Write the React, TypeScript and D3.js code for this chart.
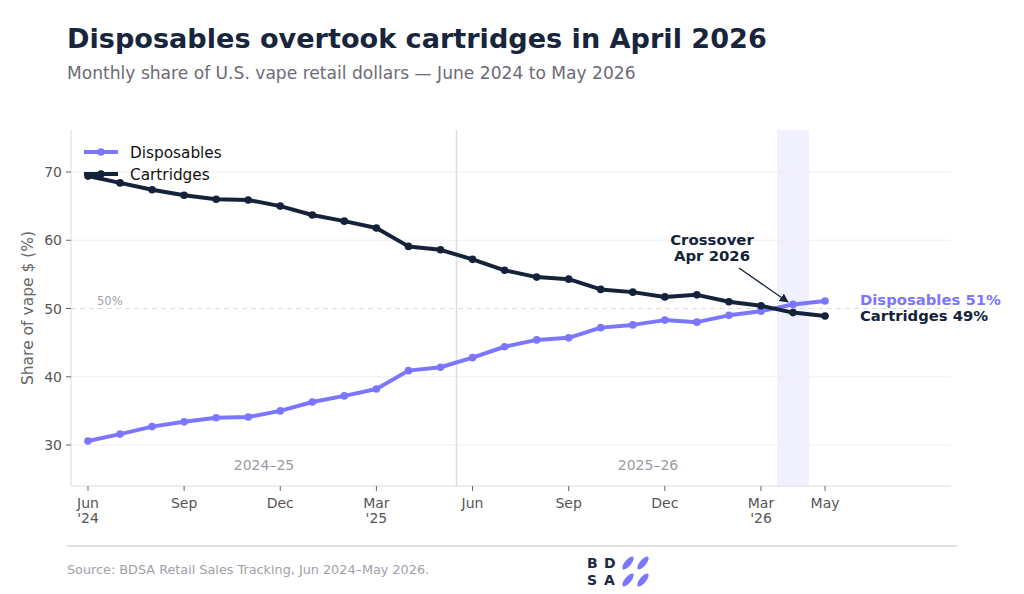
import React from 'react';
import * as d3 from 'd3';

// month index 0 = Jun 2024 ... 23 = May 2026
const months = d3.range(24);
const disposables = [30.6, 31.6, 32.7, 33.4, 34.0, 34.1, 35.0, 36.3, 37.2, 38.2, 40.9, 41.4, 42.8, 44.4, 45.4, 45.7, 47.2, 47.6, 48.3, 48.0, 49.0, 49.6, 50.6, 51.1];
const cartridges = [69.4, 68.4, 67.4, 66.6, 66.0, 65.9, 65.0, 63.7, 62.8, 61.8, 59.1, 58.6, 57.2, 55.6, 54.6, 54.3, 52.8, 52.4, 51.7, 52.0, 51.0, 50.4, 49.4, 48.9];
const xTicks = [0, 3, 6, 9, 12, 15, 18, 21, 23];
const xTickLabels = [["Jun", "'24"], ["Sep"], ["Dec"], ["Mar", "'25"], ["Jun"], ["Sep"], ["Dec"], ["Mar", "'26"], ["May"]];
const yTicks = [30, 40, 50, 60, 70];

const W = 1024;
const H = 594;
const FONT = 'DejaVu Sans, sans-serif';
const PURPLE = '#7b76ff';
const NAVY = '#14233a';

export default function App() {
  const left = 71, right = 951, top = 130, bottom = 486;
  const x = d3.scaleLinear().domain([-0.53, 26.93]).range([left, right]);
  const y = d3.scaleLinear().domain([24.0, 76.15]).range([bottom, top]);
  const line = d3.line<number>().x((_, i) => x(months[i])).y((d) => y(d));

  const series = [
    { name: 'Disposables', values: disposables, color: PURPLE },
    { name: 'Cartridges', values: cartridges, color: NAVY },
  ];

  return (
    <svg width={W} height={H} style={{ position: 'absolute', left: 0, top: 0, background: '#fff' }} fontFamily={FONT}>
      <rect width={W} height={H} fill="#fff" />
      <text x={67} y={48} fontSize={27.1} fontWeight="bold" fill="#17253d">Disposables overtook cartridges in April 2026</text>
      <text x={67} y={79} fontSize={17.1} fill="#6b6b75">Monthly share of U.S. vape retail dollars — June 2024 to May 2026</text>

      {/* crossover band */}
      <rect x={x(21.5)} y={top} width={x(22.5) - x(21.5)} height={bottom - top} fill="#efeeff" opacity={0.9} />

      {/* grid */}
      {yTicks.filter((t) => t !== 50).map((t) => (
        <line key={t} x1={left} x2={right} y1={y(t)} y2={y(t)} stroke="#eeeef0" strokeWidth={1} />
      ))}
      <line x1={left} x2={right} y1={y(50)} y2={y(50)} stroke="#dcdce0" strokeWidth={1} strokeDasharray="5,4" />
      <text x={97} y={y(50) - 4} fontSize={11.5} fill="#a0a0a8">50%</text>

      {/* season divider */}
      <line x1={x(11.5)} x2={x(11.5)} y1={top} y2={bottom} stroke="#dddde0" strokeWidth={1.5} />
      <text x={264} y={470} fontSize={14} fill="#9a9aa2" textAnchor="middle">2024–25</text>
      <text x={648} y={470} fontSize={14} fill="#9a9aa2" textAnchor="middle">2025–26</text>

      {/* spines */}
      <line x1={left} x2={left} y1={top} y2={bottom} stroke="#dcdce2" strokeWidth={1} />
      <line x1={left} x2={right} y1={bottom} y2={bottom} stroke="#dcdce2" strokeWidth={1} />

      {/* y axis */}
      {yTicks.map((t) => (
        <g key={t}>
          <line x1={left - 5} x2={left} y1={y(t)} y2={y(t)} stroke="#666" />
          <text x={left - 9} y={y(t) + 5} fontSize={14} fill="#555" textAnchor="end">{t}</text>
        </g>
      ))}
      <text transform={`translate(33,${(top + bottom) / 2}) rotate(-90)`} fontSize={15.5} fill="#666" textAnchor="middle">Share of vape $ (%)</text>

      {/* x axis */}
      {xTicks.map((t, i) => (
        <g key={t}>
          <line x1={x(t)} x2={x(t)} y1={bottom} y2={bottom + 5} stroke="#666" />
          {xTickLabels[i].map((s, j) => (
            <text key={j} x={x(t)} y={508 + j * 15} fontSize={14} fill="#555" textAnchor="middle">{s}</text>
          ))}
        </g>
      ))}

      {/* lines */}
      {series.map((s) => (
        <g key={s.name}>
          <path d={line(s.values) || ''} fill="none" stroke={s.color} strokeWidth={4} strokeLinejoin="round" strokeLinecap="round" />
          {s.values.map((v, i) => (
            <circle key={i} cx={x(months[i])} cy={y(v)} r={3.8} fill={s.color} />
          ))}
        </g>
      ))}

      {/* legend */}
      {series.map((s, i) => (
        <g key={s.name} transform={`translate(0,${152 + i * 22})`}>
          <line x1={84} x2={118} y1={0} y2={0} stroke={s.color} strokeWidth={4} />
          <circle cx={101} cy={0} r={3.8} fill={s.color} />
          <text x={130} y={5.5} fontSize={15.3} fill="#111">{s.name}</text>
        </g>
      ))}

      {/* annotation */}
      <text x={712} y={245} fontSize={14.9} fontWeight="bold" fill={NAVY} textAnchor="middle">Crossover</text>
      <text x={712} y={261} fontSize={14.9} fontWeight="bold" fill={NAVY} textAnchor="middle">Apr 2026</text>
      <defs>
        <marker id="arr" viewBox="0 0 10 10" refX="9" refY="5" markerWidth="7" markerHeight="7" orient="auto">
          <path d="M0,0 L10,5 L0,10 z" fill={NAVY} />
        </marker>
      </defs>
      <line x1={739} y1={268} x2={788} y2={302} stroke={NAVY} strokeWidth={1.3} markerEnd="url(#arr)" />

      {/* end labels */}
      <text x={860} y={305} fontSize={14.8} fontWeight="bold" fill={PURPLE}>Disposables {Math.round(disposables[23])}%</text>
      <text x={860} y={321} fontSize={14.8} fontWeight="bold" fill={NAVY}>Cartridges {Math.round(cartridges[23])}%</text>

      {/* footer */}
      <line x1={67} x2={957} y1={546} y2={546} stroke="#d6d6da" strokeWidth={1.5} />
      <text x={67} y={574} fontSize={12.8} fill="#a0a0a8">Source: BDSA Retail Sales Tracking, Jun 2024–May 2026.</text>
      <g fontSize={14} fontWeight="bold" fill="#1d2a44">
        <text x={587} y={568}>B</text>
        <text x={604} y={568}>D</text>
        <text x={587} y={585}>S</text>
        <text x={604} y={585}>A</text>
      </g>
      {[[628, 563], [643, 563], [628, 580], [643, 580]].map(([cx, cy], i) => (
        <ellipse key={i} cx={cx} cy={cy} rx={3.2} ry={8} transform={`rotate(40,${cx},${cy})`} fill={PURPLE} />
      ))}
    </svg>
  );
}
